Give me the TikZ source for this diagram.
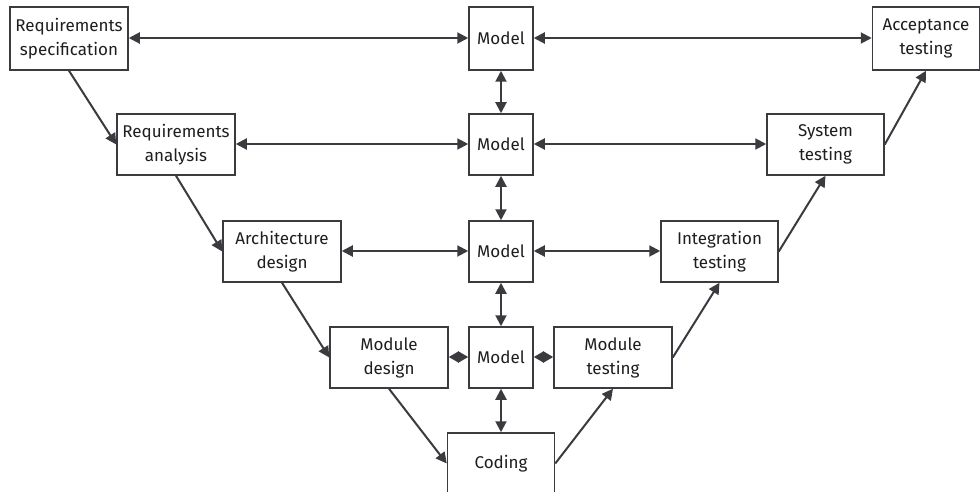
\documentclass[tikz,border=0pt]{standalone}
\usepackage{fontspec}
\setmainfont{Fira Sans}
\usetikzlibrary{arrows.meta}
\definecolor{linec}{HTML}{3A3A3F}
\definecolor{textc}{HTML}{1E1E1E}
\tikzset{
  box/.style={draw=linec, line width=1.5pt, fill=white, align=center, inner sep=0pt,
    text=textc, font=\fontsize{17}{24}\selectfont, minimum height=61pt},
  wbox/.style={box, minimum width=118pt},
  mbox/.style={box, minimum width=64pt},
  cbox/.style={box, minimum width=107pt},
  tip/.tip={Triangle[length=11pt,width=11pt]},
  stip/.tip={Triangle[length=10pt,width=11pt]},
  conn/.style={draw=linec, line width=2pt, -tip},
  dconn/.style={draw=linec, line width=2pt, tip-tip},
  sconn/.style={draw=linec, line width=2pt, stip-stip},
}
\begin{document}
\begin{tikzpicture}[x=1pt,y=-1pt]
\useasboundingbox (0,0) rectangle (980,492);
\node[wbox, minimum height=63pt] (spec) at (69,38.5) {Requirements\\specification};
\node[mbox, minimum height=63pt] (m1) at (501,38.5) {Model};
\node[cbox, minimum height=63pt] (acc) at (926,38.5) {Acceptance\\testing};
\node[wbox] (ana) at (176,144.5) {Requirements\\analysis};
\node[mbox] (m2) at (501,144.5) {Model};
\node[box, minimum width=117pt] (sys) at (825.5,144.5) {System\\testing};
\node[wbox] (arch) at (282,251.5) {Architecture\\design};
\node[mbox] (m3) at (501,251.5) {Model};
\node[box, minimum width=117pt] (integ) at (719.5,251.5) {Integration\\testing};
\node[wbox] (modd) at (389,357.5) {Module\\design};
\node[mbox] (m4) at (501,357.5) {Model};
\node[wbox] (modt) at (613,357.5) {Module\\testing};
\node[cbox] (cod) at (501,463.5) {Coding};
% horizontal
\draw[dconn] ([yshift=0.5pt]spec.east) -- ([yshift=0.5pt]m1.west);
\draw[dconn] ([yshift=0.5pt]m1.east) -- ([yshift=0.5pt]acc.west);
\draw[dconn] ([yshift=0.5pt]ana.east) -- ([yshift=0.5pt]m2.west);
\draw[dconn] ([yshift=0.5pt]m2.east) -- ([yshift=0.5pt]sys.west);
\draw[dconn] ([yshift=0.5pt]arch.east) -- ([yshift=0.5pt]m3.west);
\draw[dconn] ([yshift=0.5pt]m3.east) -- ([yshift=0.5pt]integ.west);
\draw[sconn] ([yshift=0.5pt]modd.east) -- ([yshift=0.5pt]m4.west);
\draw[sconn] ([yshift=0.5pt]m4.east) -- ([yshift=0.5pt]modt.west);
% vertical
\draw[dconn] (m1.south) -- (m2.north);
\draw[dconn] (m2.south) -- (m3.north);
\draw[dconn] (m3.south) -- (m4.north);
\draw[dconn] (m4.south) -- (cod.north);
% V
\draw[conn] (spec.south) -- (ana.west);
\draw[conn] (ana.south) -- (arch.west);
\draw[conn] (arch.south) -- (modd.west);
\draw[conn] (modd.south) -- (cod.west);
\draw[conn] (cod.east) -- (modt.south);
\draw[conn] (modt.east) -- (integ.south);
\draw[conn] (integ.east) -- (sys.south);
\draw[conn] (sys.east) -- (acc.south);
\end{tikzpicture}
\end{document}
